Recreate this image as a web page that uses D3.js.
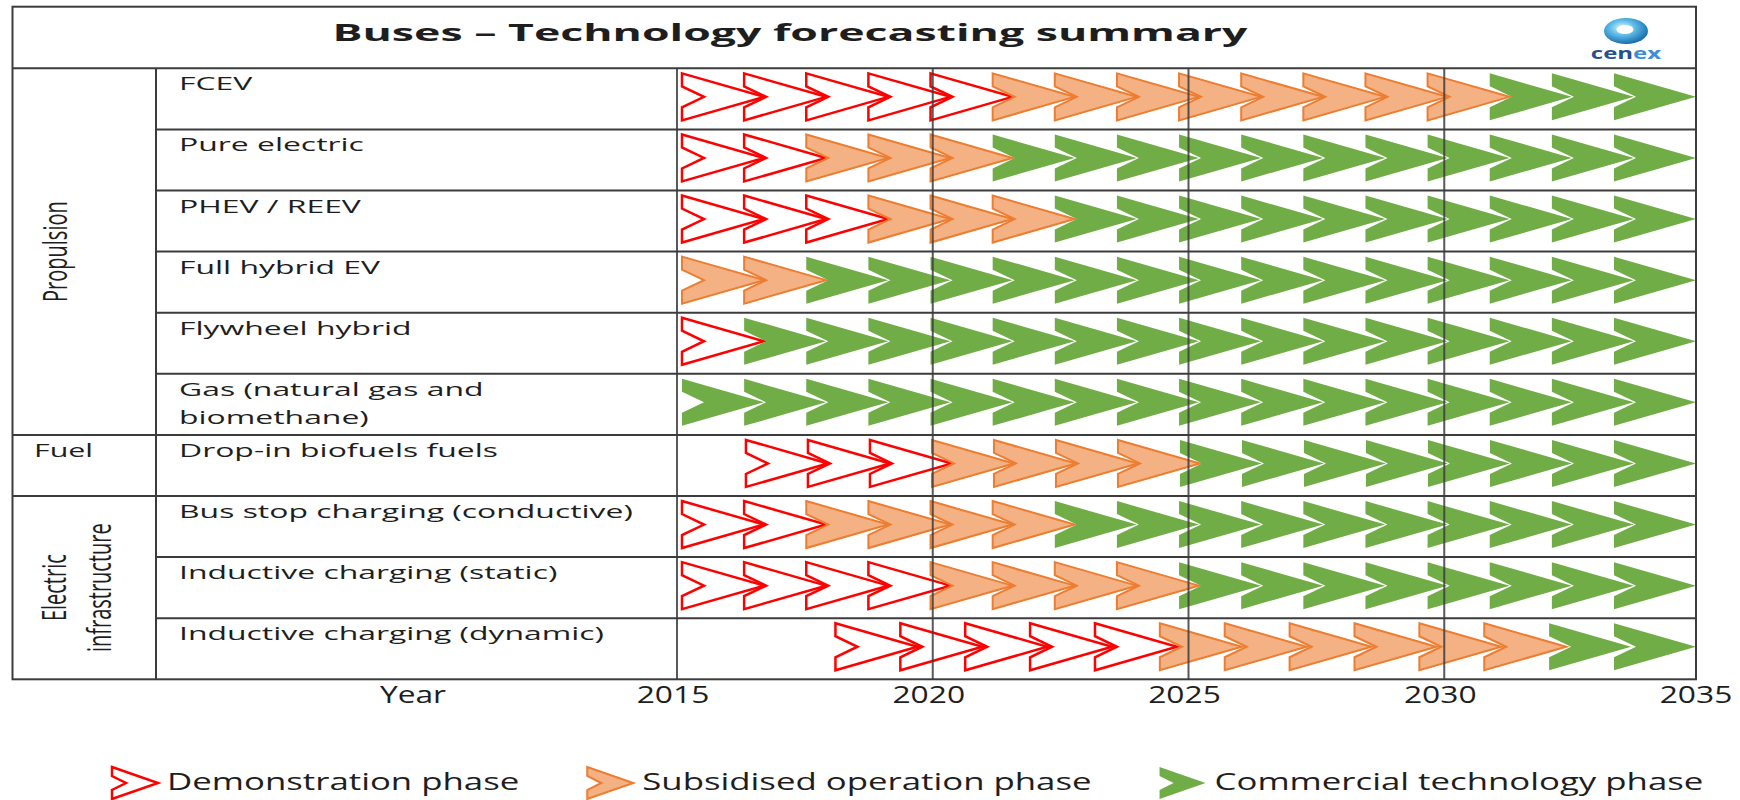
<!DOCTYPE html>
<html>
<head>
<meta charset="utf-8">
<script src="https://cdn.jsdelivr.net/npm/d3@7"></script>
<style>
  body { margin: 0; background: #fff; }
  text { font-family: "Open Sans", sans-serif; fill: #1e1e1e; }
</style>
</head>
<body>
<div id="chart"></div>
<script>
// rows of the table
var technologies = ["FCEV", "Pure electric", "PHEV / REEV", "Full hybrid EV", "Flywheel hybrid",
    "Gas (natural gas and\nbiomethane)", "Drop-in biofuels fuels", "Bus stop charging (conductive)",
    "Inductive charging (static)", "Inductive charging (dynamic)"];
var groups = ["Propulsion", "Fuel", "Electric\ninfrastructure"];
var groupSizes = [6, 1, 3];
var groupRotated = [true, false, true];

// year where the first chevron starts, then chevrons per phase
var startYears = [2015, 2015, 2015, 2015, 2015, 2015, 2016.25, 2015, 2015, 2018];
var demoArrows = [5, 2, 3, 0, 1, 0, 3, 2, 4, 5];
var subsidisedArrows = [8, 3, 3, 2, 0, 0, 4, 4, 4, 6];
var commercialArrows = [3, 11, 10, 14, 15, 16, 8, 10, 8, 2];

var yearTicks = [2015, 2020, 2025, 2030, 2035];
var phases = ["Demonstration phase", "Subsidised operation phase", "Commercial technology phase"];

var width = 1740, height = 800;
var boxLeft = 12.5, boxRight = 1696, boxTop = 6.7, titleBottom = 68.3, tableBottom = 679.3;
var catRight = 156;
var arrowW = 82, arrowH = 47, notch = 22, edge = 13, arrowPad = 5;
var lineColor = "#3c3c3c";

var phaseFill = ["#ffffff", "#F4B183", "#70AD47"];
var phaseStroke = ["#FF0000", "#ED7D31", "none"];
var phaseStrokeW = [2.5, 2, 0];

var svg = d3.select("#chart").append("svg")
    .attr("width", width)
    .attr("height", height);

var x = d3.scaleLinear()
    .domain([yearTicks[0], yearTicks[yearTicks.length - 1]])
    .range([677, 1700]);

var y = d3.scaleBand()
    .domain(technologies)
    .range([titleBottom, tableBottom]);

function chevron(w, h, d, v) {
    var p = d3.path();
    p.moveTo(0, 0);
    p.lineTo(w, h / 2);
    p.lineTo(0, h);
    p.lineTo(0, h - v);
    p.lineTo(d, h / 2);
    p.lineTo(0, v);
    p.closePath();
    return p.toString();
}

function stretchText(g, px, py, sx, str) {
    return g.append("text")
        .attr("transform", "translate(" + px + "," + py + ") scale(" + sx + ",1)")
        .text(str);
}

// title
stretchText(svg, 790, 41, 1.86, "Buses \u2013 Technology forecasting summary")
    .attr("text-anchor", "middle")
    .attr("font-size", 24)
    .attr("font-weight", "bold");

// cenex logo
var grad = svg.append("defs").append("radialGradient")
    .attr("id", "logoGrad").attr("cx", "42%").attr("cy", "38%").attr("r", "65%");
grad.append("stop").attr("offset", "0%").attr("stop-color", "#e4f6fd");
grad.append("stop").attr("offset", "45%").attr("stop-color", "#5bbbe6");
grad.append("stop").attr("offset", "100%").attr("stop-color", "#1566a9");
svg.append("ellipse").attr("cx", 1626).attr("cy", 31).attr("rx", 22).attr("ry", 13)
    .attr("fill", "url(#logoGrad)");
svg.append("ellipse").attr("cx", 1625).attr("cy", 29.5).attr("rx", 8.5).attr("ry", 4.5)
    .attr("fill", "#ffffff");
var logoText = stretchText(svg, 1626, 59, 1.5, "")
    .attr("text-anchor", "middle")
    .attr("font-size", 16)
    .attr("font-weight", "bold");
logoText.append("tspan").attr("fill", "#24528f").text("cen");
logoText.append("tspan").attr("fill", "#3b8fd3").text("ex");

// arrows, spread evenly from the start year to the right edge of the table
var arrowPath = chevron(arrowW, arrowH, notch, edge);
var arrows = [];
technologies.forEach(function (name, i) {
    var kinds = [];
    [demoArrows[i], subsidisedArrows[i], commercialArrows[i]].forEach(function (n, k) {
        d3.range(n).forEach(function () { kinds.push(k); });
    });
    var x0 = x(startYears[i]) + arrowPad;
    var x1 = Math.min(x(yearTicks[yearTicks.length - 1]), boxRight);
    var step = kinds.length > 1 ? (x1 - x0 - arrowW) / (kinds.length - 1) : 0;
    kinds.forEach(function (k, j) {
        arrows.push({ tech: name, kind: k, left: x0 + j * step });
    });
});

svg.append("g").selectAll("path")
    .data(arrows).enter().append("path")
    .attr("d", arrowPath)
    .attr("transform", d => "translate(" + d.left + "," + (y(d.tech) + y.bandwidth() / 2 - arrowH / 2 - 2) + ")")
    .attr("fill", d => phaseFill[d.kind])
    .attr("stroke", d => phaseStroke[d.kind])
    .attr("stroke-width", d => phaseStrokeW[d.kind])
    .attr("stroke-linejoin", "miter");

// table lines
var grid = svg.append("g")
    .attr("stroke", lineColor)
    .attr("stroke-width", 2)
    .attr("fill", "none");

grid.append("rect")
    .attr("x", boxLeft).attr("y", boxTop)
    .attr("width", boxRight - boxLeft).attr("height", tableBottom - boxTop);
grid.append("line").attr("x1", boxLeft).attr("x2", boxRight).attr("y1", titleBottom).attr("y2", titleBottom);
grid.append("line").attr("x1", catRight).attr("x2", catRight).attr("y1", titleBottom).attr("y2", tableBottom);

var groupEnds = d3.cumsum(groupSizes);
technologies.slice(1).forEach(function (name, i) {
    var isGroupEdge = groupEnds.indexOf(i + 1) >= 0;
    grid.append("line")
        .attr("x1", isGroupEdge ? boxLeft : catRight).attr("x2", boxRight)
        .attr("y1", y(name)).attr("y2", y(name));
});

grid.selectAll("line.year")
    .data(yearTicks.slice(0, -1)).enter().append("line")
    .attr("class", "year")
    .attr("x1", d => x(d)).attr("x2", d => x(d))
    .attr("y1", titleBottom).attr("y2", tableBottom)
    .attr("stroke-opacity", 0.85);

// row labels
technologies.forEach(function (name) {
    var t = stretchText(svg, 179, y(name) + 22, 1.68, "").attr("font-size", 19);
    name.split("\n").forEach(function (part, k) {
        t.append("tspan").attr("x", 0).attr("dy", k ? 28 : 0).text(part);
    });
});

// group labels
var groupStart = 0;
groups.forEach(function (name, gi) {
    var top = y(technologies[groupStart]);
    var bottom = y(technologies[groupStart + groupSizes[gi] - 1]) + y.bandwidth();
    var mid = (top + bottom) / 2;
    var lines = name.split("\n");
    if (groupRotated[gi]) {
        lines.forEach(function (part, k) {
            var bx = (lines.length > 1 ? 66 : 67) + k * 45;
            svg.append("text")
                .attr("transform", "translate(" + bx + "," + mid + ") scale(1.6,1) rotate(-90)")
                .attr("text-anchor", "middle")
                .attr("font-size", 20)
                .text(part);
        });
    } else {
        stretchText(svg, 34, top + 22, 1.6, name).attr("font-size", 19);
    }
    groupStart += groupSizes[gi];
});

// year axis labels
svg.append("g").selectAll("text")
    .data(yearTicks).enter().append("text")
    .attr("transform", d => "translate(" + (x(d) - 4) + ",703) scale(1.38,1)")
    .attr("text-anchor", "middle")
    .attr("font-size", 23)
    .text(d => d);
stretchText(svg, 413, 703, 1.38, "Year")
    .attr("text-anchor", "middle")
    .attr("font-size", 23);

// legend
var legendIcon = chevron(46, 32, 14, 9);
var lx = 112;
phases.forEach(function (name, k) {
    svg.append("path")
        .attr("d", legendIcon)
        .attr("transform", "translate(" + lx + ",767)")
        .attr("fill", phaseFill[k])
        .attr("stroke", phaseStroke[k])
        .attr("stroke-width", phaseStrokeW[k]);
    var t = stretchText(svg, lx + 55, 790, 1.45, name).attr("font-size", 24);
    lx += 55 + t.node().getComputedTextLength() * 1.45 + 68;
});
</script>
</body>
</html>
